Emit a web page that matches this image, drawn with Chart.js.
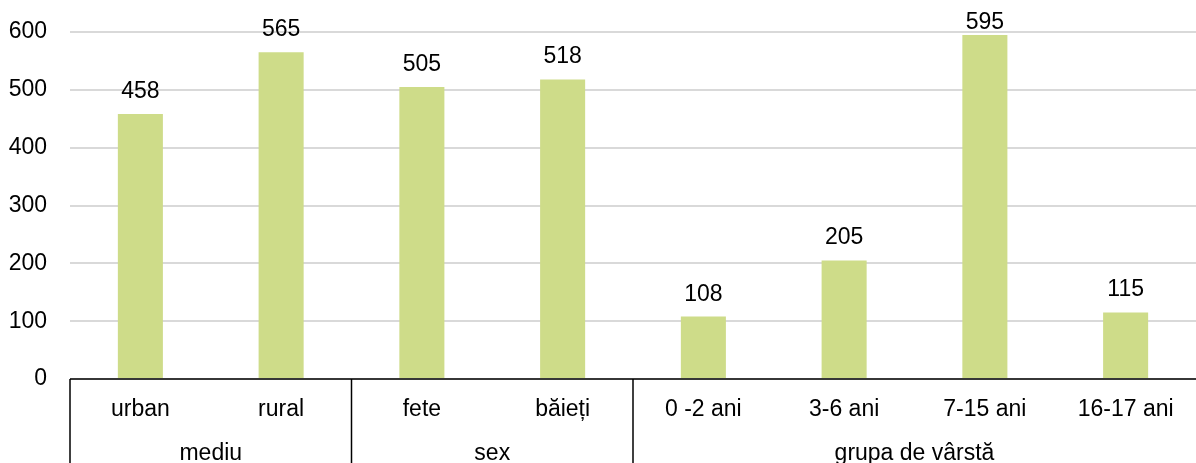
<!DOCTYPE html>
<html lang="ro">
<head>
<meta charset="utf-8">
<title>Grafic</title>
<script src="https://cdn.jsdelivr.net/npm/chart.js"></script>
<style>
  body { margin: 0; background: #fff; }
  .wrap { width: 1196px; height: 463px; }
</style>
</head>
<body>
<div class="wrap"><canvas id="grafic" width="1196" height="463"></canvas></div>
<script>
const categorii = ['urban', 'rural', 'fete', 'băieți', '0 -2 ani', '3-6 ani', '7-15 ani', '16-17 ani'];
const valori = [458, 565, 505, 518, 108, 205, 595, 115];
const grupe = ['mediu', 'sex', 'grupa de vârstă'];
const marimeGrupe = [2, 2, 4];
const ticksY = [0, 100, 200, 300, 400, 500, 600];

const FONT = '"Liberation Sans", Arial, sans-serif';
const MARIME = 23;

// etichete valori + separatoare + grupe
const extra = {
  id: 'extra',
  afterDatasetsDraw(chart) {
    const ctx = chart.ctx;
    const x = chart.scales.x;
    const area = chart.chartArea;
    const meta = chart.getDatasetMeta(0);
    ctx.save();
    ctx.font = MARIME + 'px ' + FONT;
    ctx.fillStyle = '#000';
    ctx.textAlign = 'center';
    ctx.textBaseline = 'alphabetic';
    meta.data.forEach((bar, i) => {
      // eticheta nu iese din canvas (ca in Excel)
      const y = Math.max(bar.y - 16, 29);
      ctx.fillText(String(valori[i]), bar.x, y);
    });

    // axa orizontala
    ctx.strokeStyle = '#000';
    ctx.lineWidth = 1.5;
    ctx.beginPath();
    ctx.moveTo(area.left, area.bottom);
    ctx.lineTo(area.right, area.bottom);
    ctx.stroke();

    let start = 0;
    const bottom = chart.height;
    ctx.textBaseline = 'middle';
    grupe.forEach((g, k) => {
      const end = start + marimeGrupe[k];
      const x0 = x.getPixelForValue(start - 0.5);
      const x1 = x.getPixelForValue(end - 0.5);
      ctx.beginPath();
      ctx.moveTo(x0, area.bottom);
      ctx.lineTo(x0, bottom);
      ctx.stroke();
      ctx.fillText(g, (x0 + x1) / 2, area.bottom + 75);
      start = end;
    });
    ctx.restore();
  }
};

new Chart(document.getElementById('grafic'), {
  type: 'bar',
  data: {
    labels: categorii,
    datasets: [{
      data: valori,
      backgroundColor: '#cedc89',
      barPercentage: 0.32,
      categoryPercentage: 1
    }]
  },
  options: {
    responsive: false,
    animation: false,
    layout: { padding: { top: 32, right: 0, left: 0, bottom: 0 } },
    plugins: { legend: { display: false }, tooltip: { enabled: false } },
    scales: {
      x: {
        grid: { display: false, drawTicks: false },
        border: { display: false },
        ticks: { color: '#000', font: { size: MARIME, family: FONT }, padding: 17, maxRotation: 0 },
        afterFit(s) { s.height = 84; s.paddingLeft = 0; s.paddingRight = 0; }
      },
      y: {
        min: 0,
        max: 600,
        afterBuildTicks(s) { s.ticks = ticksY.map(v => ({ value: v })); },
        grid: { color: '#d9d9d9', lineWidth: 2, drawTicks: false },
        border: { display: false },
        ticks: { color: '#000', font: { size: MARIME, family: FONT }, padding: 23 },
        afterFit(s) { s.width = 70; s.paddingTop = 0; s.paddingBottom = 0; }
      }
    }
  },
  plugins: [extra]
});
</script>
</body>
</html>
